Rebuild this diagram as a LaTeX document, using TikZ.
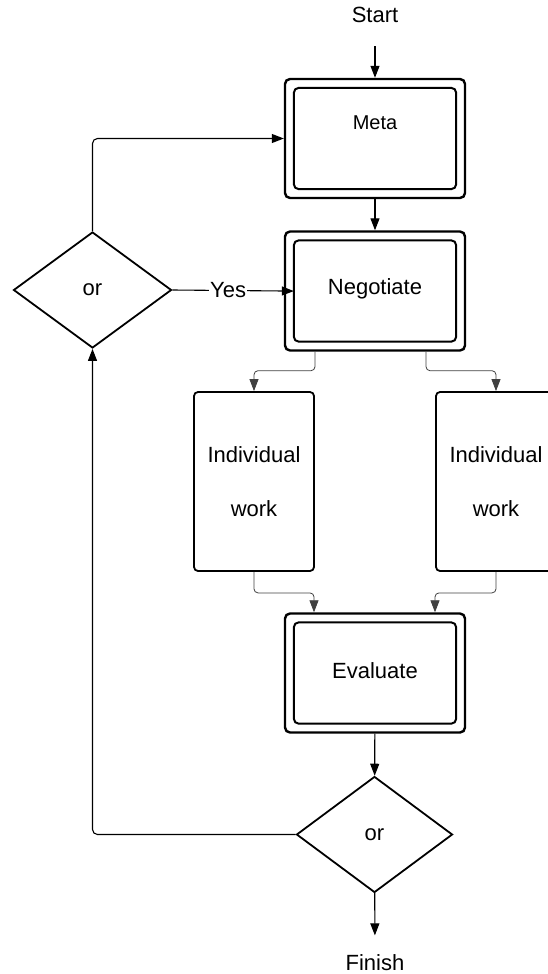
\documentclass[tikz,border=0pt]{standalone}
\usepackage{fontspec}
\setmainfont{Liberation Sans}
\usepackage{tikz}
\usetikzlibrary{arrows.meta,shapes.geometric,positioning,calc}

\tikzset{
    outerbox/.style={draw, line width=2.4pt, rounded corners=5pt, minimum width=180, minimum height=119, inner sep=0pt},
    innerbox/.style={draw, line width=2pt, rounded corners=5pt},
    workbox/.style={draw, line width=1.8pt, rounded corners=4pt, minimum width=120, minimum height=179, inner sep=0pt, align=center},
    choice/.style={diamond, draw, line width=1.8pt, inner sep=0pt},
    arr/.style={-{Triangle[length=12pt,width=9pt]}, line width=1.1pt},
    thinarr/.style={-{Triangle[length=12pt,width=9pt]}, line width=0.8pt, draw=black!75, rounded corners=4pt}
}

\begin{document}
\begin{tikzpicture}[x=1pt, y=-1pt, font=\fontsize{22}{26}\selectfont]
    \useasboundingbox (0,0) rectangle (548,974);
    \clip (0,0) rectangle (548,974);

    % Labels at the ends
    \node (start) at (375,15) {Start};
    \node (finish) at (375,963) {Finish};

    % Main boxes
    \node[outerbox] (meta) at (375,138.5) {};
    \node[font=\fontsize{20}{24}\selectfont] (metatext) at (375,123) {Meta};
    \node[outerbox] (nego) at (375,291) {};
    \node (negotext) at (375,289) {Negotiate};
    \node[outerbox] (eval) at (375,673) {};
    \node (evaltext) at (375,671) {Evaluate};
    \foreach \n in {meta,nego,eval}
        \draw[innerbox] ([shift={(10,10)}]\n.north west) rectangle ([shift={(-10,-10)}]\n.south east);

    % Work boxes
    \node[workbox] (indl) at (254,481.5) {Individual\\[28pt]work};
    \node[workbox] (indr) at (496,481.5) {Individual\\[28pt]work};

    % Decisions
    \node[choice, minimum width=158, minimum height=116] (orl) at (92.5,290) {or};
    \node[choice, minimum width=156, minimum height=116] (orb) at (374.5,834.5) {or};

    % Arrows
    \draw[arr, shorten <=20pt] (start) -- (meta);
    \draw[arr] (meta) -- (nego);
    \draw[arr] (eval) -- (orb);
    \draw[arr, shorten >=16pt] (orb) -- (finish);
    \draw[arr, shorten >=-10pt] (orl.east) -- node[fill=white, inner sep=1pt] (yes) {Yes} (nego.west);
    \draw[arr, rounded corners=5pt] (orl.north) |- (meta.west);
    \draw[arr, rounded corners=5pt] (orb.west) -| (orl.south);

    % Split and join
    \draw[thinarr] ([xshift=-60]nego.south) -- ++(0,19) -| (indl.north);
    \draw[thinarr] ([xshift=51]nego.south) -- ++(0,19) -| (indr.north);
    \draw[thinarr] (indl.south) -- ++(0,21) -| ([xshift=-61]eval.north);
    \draw[thinarr] (indr.south) -- ++(0,21) -| ([xshift=60]eval.north);
\end{tikzpicture}
\end{document}
